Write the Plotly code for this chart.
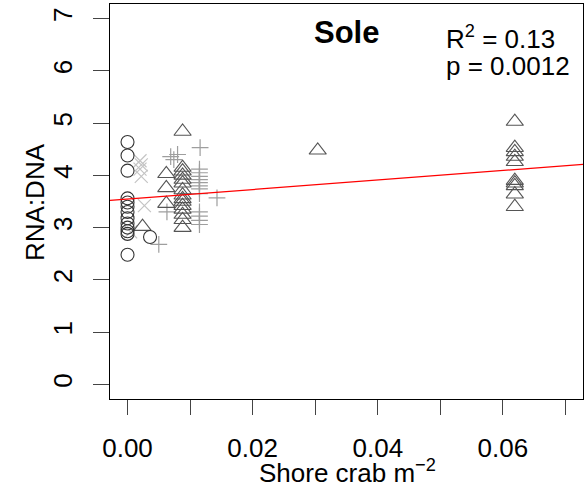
import plotly.graph_objects as go

# ---- data ----
circle_x = [0, 0, 0, 0, 0, 0, 0, 0, 0, 0, 0, 0, 0, 0.0036]
circle_y = [4.64, 4.38, 4.09, 3.56, 3.48, 3.40, 3.30, 3.18, 3.08, 3.00, 2.93, 2.88, 2.48, 2.82]

cross_x = [0.0020, 0.0022, 0.0020, 0.0022, 0.0027, 0.0005]
cross_y = [4.28, 4.20, 4.12, 3.98, 3.42, 2.92]

tri_x = ([0.0024] + [0.0062] * 3 + [0.0088] * 15 + [0.0304] + [0.0619] * 10)
tri_y = ([3.02] + [4.03, 3.76, 3.46]
         + [4.84, 4.15, 4.08, 4.00, 3.92, 3.85, 3.72, 3.62, 3.55, 3.50, 3.42, 3.35, 3.25, 3.15, 3.00]
         + [4.48]
         + [5.03, 4.53, 4.45, 4.36, 4.26, 3.90, 3.85, 3.80, 3.64, 3.40])

plus_x = ([0.0050, 0.0063, 0.0069, 0.0080, 0.0074, 0.0116] + [0.0115] * 12 + [0.0143])
plus_y = ([2.68, 3.30, 4.36, 4.40, 4.30, 4.53]
          + [4.12, 4.05, 3.98, 3.92, 3.86, 3.80, 3.74, 3.65, 3.30, 3.22, 3.14, 3.06]
          + [3.57])

reg_intercept = 3.546
reg_slope = 9.14

x_ticks = [0, 0.01, 0.02, 0.03, 0.04, 0.05, 0.06, 0.07]
x_ticktext = ["0.00", "", "0.02", "", "0.04", "", "0.06", ""]
y_ticks = [0, 1, 2, 3, 4, 5, 6, 7]

x_range = [-0.0028, 0.0728]
y_range = [-0.28, 7.28]

FONT = "Liberation Sans, Arial, Helvetica, sans-serif"
FS = 26

# plot area in pixels: left 110, right 583, top 4, bottom 399
L, R, T, B = 110, 583, 4, 399


def px(xp):
    return (xp - L) / (R - L)


def py(yp):
    return (B - yp) / (B - T)


fig = go.Figure()
fig.add_trace(go.Scatter(x=cross_x, y=cross_y, mode="markers",
                         marker=dict(symbol="x-thin-open", size=13, color="#c4c4c4",
                                     line=dict(color="#c4c4c4", width=1.2)),
                         showlegend=False))
fig.add_trace(go.Scatter(x=plus_x, y=plus_y, mode="markers",
                         marker=dict(symbol="cross-thin-open", size=12, color="#9e9e9e",
                                     line=dict(color="#9e9e9e", width=1.2)),
                         showlegend=False))
fig.add_trace(go.Scatter(x=tri_x, y=tri_y, mode="markers",
                         marker=dict(symbol="triangle-up-open", size=15,
                                     color="#555555",
                                     line=dict(color="#555555", width=1.1)),
                         showlegend=False))
fig.add_trace(go.Scatter(x=circle_x, y=circle_y, mode="markers",
                         marker=dict(symbol="circle-open", size=13,
                                     color="#333333",
                                     line=dict(color="#333333", width=1.1)),
                         showlegend=False))
line_x = [x_range[0], x_range[1]]
line_y = [reg_intercept + reg_slope * v for v in line_x]
fig.add_trace(go.Scatter(x=line_x, y=line_y, mode="lines",
                         line=dict(color="red", width=1.2), showlegend=False))

fig.update_layout(
    width=586, height=495,
    margin=dict(l=L, r=586 - R, t=T, b=495 - B),
    paper_bgcolor="white", plot_bgcolor="white",
    font=dict(family=FONT, size=FS, color="black"),
    annotations=[
        dict(text="<b>Sole</b>", x=px(346.5), y=py(32.5),
             xref="paper", yref="paper", showarrow=False,
             xanchor="center", yanchor="middle",
             font=dict(size=31, color="black", family=FONT)),
        dict(text="R<sup>2</sup> = 0.13", x=px(444), y=py(37),
             xref="paper", yref="paper", showarrow=False,
             xanchor="left", yanchor="middle", align="left",
             font=dict(size=FS, color="black", family=FONT)),
        dict(text="p = 0.0012", x=px(444), y=py(66),
             xref="paper", yref="paper", showarrow=False,
             xanchor="left", yanchor="middle", align="left",
             font=dict(size=FS, color="black", family=FONT)),
        dict(text="Shore crab m<sup>\u22122</sup>", x=px(347), y=py(471),
             xref="paper", yref="paper", showarrow=False,
             xanchor="center", yanchor="middle",
             font=dict(size=FS, color="black", family=FONT)),
        dict(text="RNA:DNA", x=px(35), y=py(202), textangle=-90,
             xref="paper", yref="paper", showarrow=False,
             xanchor="center", yanchor="middle",
             font=dict(size=FS, color="black", family=FONT)),
    ],
)
fig.update_xaxes(range=x_range, tickvals=x_ticks, ticktext=x_ticktext,
                 showgrid=False, zeroline=False, showline=True, mirror=True,
                 linecolor="black", linewidth=1, ticks="outside", ticklen=15,
                 tickcolor="#444444", tickwidth=1, ticklabelstandoff=11,
                 tickfont=dict(size=FS))
fig.update_yaxes(range=y_range, tickvals=y_ticks, tickangle=-90,
                 showgrid=False, zeroline=False, showline=True, mirror=True,
                 linecolor="black", linewidth=1, ticks="outside", ticklen=16,
                 tickcolor="#444444", tickwidth=1, ticklabelstandoff=11,
                 tickfont=dict(size=FS))

fig.write_html("out.html")
